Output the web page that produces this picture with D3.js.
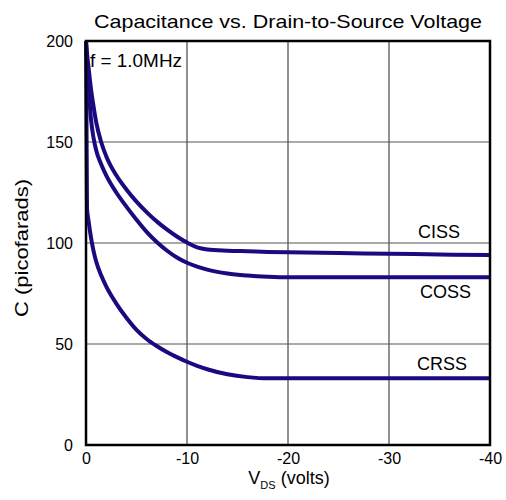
<!DOCTYPE html>
<html>
<head>
<meta charset="utf-8">
<script src="https://cdn.jsdelivr.net/npm/d3@7"></script>
<style>
    body { margin: 0; background: #fff; }
    text { font-family: "Liberation Sans", Arial, sans-serif; fill: #000; }
</style>
</head>
<body>
<script>

// drain-to-source voltage (volts) and capacitance (pF)
var vds  = [0, -0.1, -0.25, -0.5, -0.75, -1, -1.5, -2, -3, -4, -5, -6, -7, -8, -9, -10, -11, -12, -14, -16, -18, -20, -25, -30, -35, -40];
var ciss = [200, 194, 187, 176, 167.5, 160, 150, 143, 133.5, 126.5, 120.5, 115.3, 110.7, 106.7, 103.2, 100.2, 97.8, 96.8, 96.2, 95.9, 95.6, 95.4, 95.0, 94.7, 94.3, 94.0];
var coss = [200, 189, 178, 161, 152, 146, 139, 133.5, 125, 118, 111.5, 105.5, 100.5, 96.3, 92.8, 90.2, 88.3, 86.8, 84.9, 83.9, 83.3, 83.0, 83.0, 83.0, 83.0, 83.0];
var crss = [200, 117, 111, 102.5, 96, 91, 84, 78.5, 70, 63, 57, 52.5, 49, 46, 43.5, 41.2, 39.2, 37.5, 35, 33.6, 33.0, 33.0, 33.0, 33.0, 33.0, 33.0];

var xTicks = [0, -10, -20, -30, -40];
var yTicks = [0, 50, 100, 150, 200];

var series = [
    { name: "CISS", values: ciss, lx: 418, ly: 238 },
    { name: "COSS", values: coss, lx: 420, ly: 298 },
    { name: "CRSS", values: crss, lx: 417, ly: 370 }
];

var width = 506, height = 500;
var margin = { left: 86, right: 16, top: 41, bottom: 55 };
var w = width - margin.left - margin.right;
var h = height - margin.top - margin.bottom;

var x = d3.scaleLinear().domain([0, -40]).range([0, w]);
var y = d3.scaleLinear().domain([0, 200]).range([h, 0]);

var svg = d3.select("body").append("svg")
    .attr("width", width)
    .attr("height", height);

svg.append("text")
    .attr("x", 288)
    .attr("y", 28)
    .attr("text-anchor", "middle")
    .attr("textLength", 388)
    .attr("lengthAdjust", "spacingAndGlyphs")
    .style("font-size", "19px")
    .text("Capacitance vs. Drain-to-Source Voltage");

var g = svg.append("g")
    .attr("transform", "translate(" + margin.left + "," + margin.top + ")");

// grid
g.selectAll(".vgrid")
    .data(xTicks)
    .enter().append("line")
        .attr("x1", function (d) { return x(d); })
        .attr("x2", function (d) { return x(d); })
        .attr("y1", 0)
        .attr("y2", h)
        .attr("stroke", "#222")
        .attr("stroke-width", 1);

g.selectAll(".hgrid")
    .data(yTicks)
    .enter().append("line")
        .attr("x1", 0)
        .attr("x2", w)
        .attr("y1", function (d) { return y(d); })
        .attr("y2", function (d) { return y(d); })
        .attr("stroke", "#555")
        .attr("stroke-width", 1.2);

// axes (labels only, the frame is drawn below)
var xAxis = g.append("g")
    .attr("transform", "translate(0," + h + ")")
    .call(d3.axisBottom(x).tickValues(xTicks).tickSize(0).tickPadding(8).tickFormat(function (d) { return String(d); }));

var yAxis = g.append("g")
    .call(d3.axisLeft(y).tickValues(yTicks).tickSize(0).tickPadding(13).tickFormat(function (d) { return String(d); }));

[xAxis, yAxis].forEach(function (a) {
    a.select(".domain").remove();
    a.selectAll("text")
        .style("font-family", "'Liberation Sans', Arial, sans-serif")
        .style("font-size", "16px")
        .attr("fill", "#000");
});

// curves
var line = d3.line()
    .x(function (d) { return x(d[0]); })
    .y(function (d) { return y(d[1]); })
    .curve(d3.curveMonotoneX);

series.forEach(function (s) {
    var pts = vds.map(function (v, i) { return [v, s.values[i]]; });
    g.append("path")
        .datum(pts)
        .attr("d", line)
        .attr("fill", "none")
        .attr("stroke", "#1a0a80")
        .attr("stroke-width", 4)
        .attr("stroke-linejoin", "round");

    svg.append("text")
        .attr("x", s.lx)
        .attr("y", s.ly)
        .style("font-size", "18px")
        .text(s.name);
});

// frame
g.append("rect")
    .attr("x", 0)
    .attr("y", 0)
    .attr("width", w)
    .attr("height", h)
    .attr("fill", "none")
    .attr("stroke", "#000")
    .attr("stroke-width", 2.5);

svg.append("text")
    .attr("x", 90)
    .attr("y", 67)
    .attr("textLength", 92)
    .attr("lengthAdjust", "spacingAndGlyphs")
    .style("font-size", "18px")
    .text("f = 1.0MHz");

// axis titles
var xl = svg.append("text")
    .attr("x", 289)
    .attr("y", 484)
    .attr("text-anchor", "middle")
    .style("font-size", "18px");
xl.append("tspan").text("V");
xl.append("tspan").attr("dy", 5).style("font-size", "11px").text("DS");
xl.append("tspan").attr("dy", -5).text(" (volts)");

svg.append("text")
    .attr("transform", "translate(28,248) rotate(-90)")
    .attr("text-anchor", "middle")
    .attr("textLength", 138)
    .attr("lengthAdjust", "spacingAndGlyphs")
    .style("font-size", "19px")
    .text("C (picofarads)");

</script>
</body>
</html>
